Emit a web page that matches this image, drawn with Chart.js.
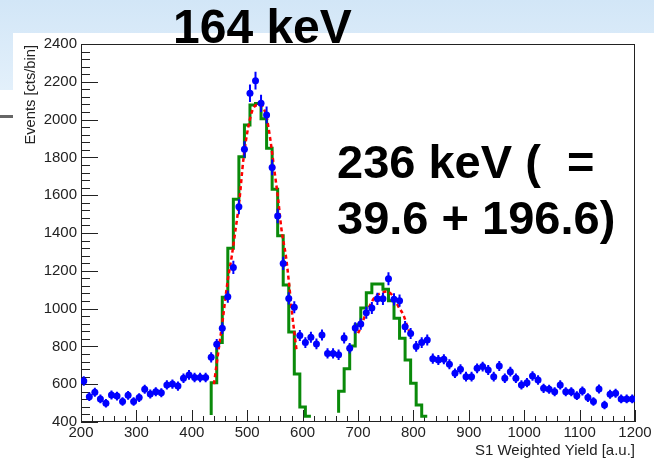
<!DOCTYPE html>
<html>
<head>
<meta charset="utf-8">
<script src="https://cdn.jsdelivr.net/npm/chart.js@4.4.1/dist/chart.umd.min.js"></script>
<style>
  html, body { margin: 0; padding: 0; background: #fff; }
  canvas { display: block; }
</style>
</head>
<body>
<canvas id="s1Spectrum" width="654" height="458"></canvas>
<script>
// S1 weighted yield spectrum: data points vs simulated peaks + fits

const binCenters = [
  205, 215, 225, 235, 245, 255, 265, 275, 285, 295,
  305, 315, 325, 335, 345, 355, 365, 375, 385, 395,
  405, 415, 425, 435, 445, 455, 465, 475, 485, 495,
  505, 515, 525, 535, 545, 555, 565, 575, 585, 595,
  605, 615, 625, 635, 645, 655, 665, 675, 685, 695,
  705, 715, 725, 735, 745, 755, 765, 775, 785, 795,
  805, 815, 825, 835, 845, 855, 865, 875, 885, 895,
  905, 915, 925, 935, 945, 955, 965, 975, 985, 995,
  1005, 1015, 1025, 1035, 1045, 1055, 1065, 1075, 1085, 1095,
  1105, 1115, 1125, 1135, 1145, 1155, 1165, 1175, 1185, 1195
];
const counts = [
  617, 534, 557, 522, 499, 543, 537, 508, 541, 509,
  529, 573, 548, 560, 555, 596, 601, 590, 631, 649,
  636, 636, 636, 742, 811, 896, 1063, 1218, 1539, 1843,
  2139, 2206, 2086, 2024, 1747, 1490, 1239, 1054, 1007, 858,
  820, 848, 813, 860, 763, 763, 756, 845, 790, 898,
  918, 978, 1003, 1052, 1052, 1158, 1049, 1042, 904, 868,
  800, 820, 834, 735, 728, 732, 705, 658, 679, 640,
  640, 684, 693, 675, 640, 696, 631, 666, 631, 596,
  608, 643, 622, 578, 573, 560, 596, 560, 560, 539,
  564, 529, 508, 575, 490, 547, 552, 522, 522, 522
];

// simulated histograms (low bin edges, last entry closes the outline)
const sim164Edges = [435, 445, 455, 465, 475, 485, 495, 505, 515, 525, 535, 545, 555, 565, 575, 585, 595, 605, 615];
const sim164Counts = [437, 608, 820, 1060, 1319, 1578, 1803, 1971, 2077, 2085, 2005, 1848, 1632, 1386, 1125, 876, 654, 479, 430];
const sim236Edges = [665, 675, 685, 695, 705, 715, 725, 735, 745, 755, 765, 775, 785, 795, 805, 815, 825];
const sim236Counts = [449, 563, 682, 802, 915, 1003, 1084, 1130, 1130, 1102, 1042, 949, 843, 728, 605, 490, 430];

// fit curves
const fit164X = [440, 445, 455, 465, 472, 478, 486, 493, 502, 511, 522, 534, 541, 549, 556, 562, 570, 576, 581, 589];
const fit164Y = [600, 711, 922, 1151, 1275, 1398, 1575, 1786, 1962, 2060, 2080, 2024, 1910, 1733, 1575, 1416, 1275, 1120, 975, 781];
const fit236X = [700, 705, 713, 722, 731, 742, 752, 764, 773, 782, 791, 796];
const fit236Y = [870, 900, 966, 1020, 1063, 1082, 1090, 1063, 1010, 966, 890, 860];

const FONT = '"Liberation Sans", Arial, Helvetica, sans-serif';
const BLUE = '#0000ff';

const pts = (xs, ys) => xs.map((v, i) => ({x: v, y: ys[i]}));

const slideBackground = {
  id: 'slideBackground',
  beforeDraw(chart) {
    const ctx = chart.ctx;
    ctx.save();
    ctx.fillStyle = '#fff';
    ctx.fillRect(0, 0, chart.width, chart.height);
    const g = ctx.createLinearGradient(0, 0, 0, 90);
    g.addColorStop(0, '#d2e6f7');
    g.addColorStop(1, '#e3f0fb');
    ctx.fillStyle = g;
    ctx.fillRect(0, 0, chart.width, 33);
    ctx.fillRect(0, 33, 13, 57);
    ctx.fillStyle = '#666';
    ctx.fillRect(0, 115, 13, 3);
    ctx.restore();
  }
};

// ROOT-like frame with inside ticks
const rootFrame = {
  id: 'rootFrame',
  beforeDatasetsDraw(chart) {
    const {ctx, chartArea: a, scales: {x, y}} = chart;
    ctx.save();
    ctx.strokeStyle = '#222';
    ctx.lineWidth = 1;
    ctx.strokeRect(Math.round(a.left) + 0.5, Math.round(a.top) + 0.5,
      Math.round(a.right - a.left) - 1, Math.round(a.bottom - a.top) - 1);
    ctx.beginPath();
    for (let v = 400; v <= 2400; v += 40) {
      const py = Math.round(y.getPixelForValue(v)) + 0.5;
      const len = (v - 400) % 200 === 0 ? 17 : 9;
      ctx.moveTo(a.left, py);
      ctx.lineTo(a.left + len, py);
    }
    for (let v = 200; v <= 1200; v += 20) {
      const px = Math.round(x.getPixelForValue(v)) + 0.5;
      const len = (v - 200) % 100 === 0 ? 12 : 6;
      ctx.moveTo(px, a.bottom);
      ctx.lineTo(px, a.bottom - len);
    }
    ctx.stroke();
    ctx.restore();
  }
};

const errorBars = {
  id: 'errorBars',
  beforeDatasetDraw(chart, args) {
    if (args.index !== 0) return;
    const {ctx, chartArea: a, scales: {x, y}} = chart;
    ctx.save();
    ctx.beginPath();
    ctx.rect(a.left, a.top, a.right - a.left, a.bottom - a.top);
    ctx.clip();
    ctx.strokeStyle = BLUE;
    ctx.lineWidth = 2;
    ctx.beginPath();
    binCenters.forEach((c, i) => {
      const err = Math.sqrt(counts[i]);
      const px = x.getPixelForValue(c);
      ctx.moveTo(px, y.getPixelForValue(counts[i] - err));
      ctx.lineTo(px, y.getPixelForValue(counts[i] + err));
    });
    ctx.stroke();
    ctx.restore();
  }
};

const labels = {
  id: 'labels',
  afterDraw(chart) {
    const ctx = chart.ctx;
    ctx.save();
    ctx.fillStyle = '#222';
    ctx.font = '15px ' + FONT;
    ctx.textAlign = 'right';
    ctx.textBaseline = 'alphabetic';
    ctx.fillText('S1 Weighted Yield [a.u.]', 635, 455);
    ctx.font = '14.7px ' + FONT;
    ctx.translate(35, 45);
    ctx.rotate(-Math.PI / 2);
    ctx.fillText('Events [cts/bin]', 0, 0);
    ctx.restore();

    ctx.save();
    ctx.fillStyle = '#000';
    ctx.textAlign = 'left';
    ctx.textBaseline = 'alphabetic';
    ctx.font = 'bold 48px ' + FONT;
    ctx.fillText('164 keV', 173, 43);
    ctx.font = 'bold 47px ' + FONT;
    ctx.fillText('236 keV (  =', 337, 178);
    ctx.fillText('39.6 + 196.6)', 337, 234);
    ctx.restore();
  }
};

const tickFont = {family: FONT, size: 15};

new Chart(document.getElementById('s1Spectrum'), {
  type: 'scatter',
  data: {
    datasets: [
      {
        label: 'Data',
        data: pts(binCenters, counts),
        showLine: false,
        pointRadius: 3.5,
        pointBorderWidth: 0,
        pointBackgroundColor: BLUE
      },
      {
        type: 'line',
        label: 'Fit 164 keV',
        data: pts(fit164X, fit164Y),
        showLine: true,
        borderColor: '#ff0000',
        borderWidth: 2.5,
        borderDash: [4, 3],
        cubicInterpolationMode: 'monotone',
        pointRadius: 0
      },
      {
        type: 'line',
        label: 'Fit 236 keV',
        data: pts(fit236X, fit236Y),
        showLine: true,
        borderColor: '#ff0000',
        borderWidth: 2.5,
        borderDash: [4, 3],
        cubicInterpolationMode: 'monotone',
        pointRadius: 0
      },
      {
        type: 'line',
        label: 'Sim 164 keV',
        data: pts(sim164Edges, sim164Counts),
        showLine: true,
        stepped: 'after',
        borderColor: '#0a8a0a',
        borderWidth: 3,
        pointRadius: 0,
        clip: 0
      },
      {
        type: 'line',
        label: 'Sim 236 keV',
        data: pts(sim236Edges, sim236Counts),
        showLine: true,
        stepped: 'after',
        borderColor: '#0a8a0a',
        borderWidth: 3,
        pointRadius: 0,
        clip: 0
      }
    ]
  },
  options: {
    responsive: false,
    animation: false,
    events: [],
    layout: {padding: {top: 44, right: 19, left: 0, bottom: 0}},
    plugins: {legend: {display: false}, tooltip: {enabled: false}},
    scales: {
      x: {
        type: 'linear',
        min: 200,
        max: 1200,
        grid: {display: false, drawTicks: false},
        border: {display: false},
        ticks: {
          stepSize: 100,
          autoSkip: false,
          maxRotation: 0,
          padding: 2,
          color: '#222',
          font: tickFont,
          callback: v => String(v)
        },
        afterFit(s) { s.height = 36; }
      },
      y: {
        min: 400,
        max: 2400,
        grid: {display: false, drawTicks: false},
        border: {display: false},
        ticks: {
          stepSize: 200,
          autoSkip: false,
          padding: 4,
          color: '#222',
          font: tickFont,
          callback: v => String(v)
        },
        afterFit(s) { s.width = 81; }
      }
    }
  },
  plugins: [slideBackground, rootFrame, errorBars, labels]
});
</script>
</body>
</html>
